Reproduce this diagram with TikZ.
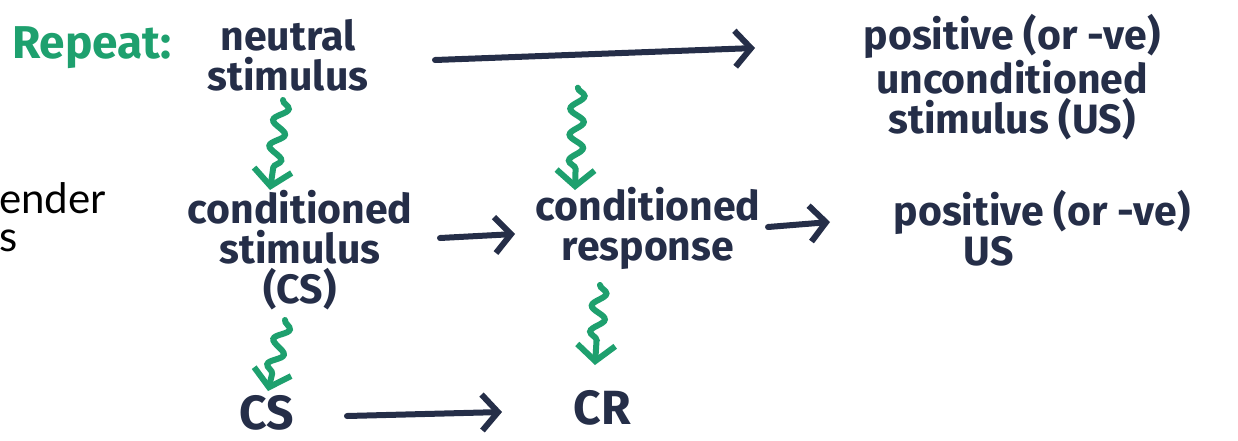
\documentclass[tikz,border=0pt]{standalone}
\usepackage{fontspec}
\setmainfont{Fira Sans}
\newfontfamily\sidefont{Lato}
\usetikzlibrary{arrows.meta,decorations.pathmorphing}
\definecolor{ink}{HTML}{252E48}
\definecolor{mark}{HTML}{1EA06E}
\begin{document}
\begin{tikzpicture}[x=1pt,y=-1pt,
  hand/.style={text=ink, font=\bfseries\fontsize{41}{40}\selectfont, align=center, inner sep=0pt},
  big/.style={hand, font=\bfseries\fontsize{48}{48}\selectfont},
  arr/.style={draw=ink, line width=6pt, line cap=round, -{Straight Barb[length=16pt,width=36pt,line width=6pt]}},
  wig/.style={draw=mark, line width=6pt, line cap=round, decorate,
     decoration={snake, segment length=26pt, amplitude=7pt, post length=16pt},
     -{Straight Barb[length=16pt,width=38pt,line width=6pt]}},
  side/.style={text=black, font=\sidefont\fontsize{42}{44}\selectfont, inner sep=0pt, anchor=west}]
\useasboundingbox (0,0) rectangle (1238,440);
% side fragments
\node[side] (sa) at (-1,198) {ender};
\node[side] (sb) at (-1,241) {s};
% nodes
\node[hand, text=mark, font=\bfseries\fontsize{46}{46}\selectfont] (rep) at (92,48) {Repeat:};
\node[hand] (ns) at (288,55) {neutral\\stimulus};
\node[hand] (us1) at (1012,77) {positive (or -ve)\\unconditioned\\stimulus (US)};
\node[hand] (cs1) at (300,250) {conditioned\\stimulus\\(CS)};
\node[hand] (cr1) at (648,228) {conditioned\\response};
\node[hand, align=left] (us2) at (1042,228) {positive (or -ve)\\\hspace*{70pt}US};
\node[big] (cs2) at (267,413) {CS};
\node[big] (cr2) at (602,408) {CR};
% connectors
\draw[arr] ([shift={(147,5)}]ns.center) -- coordinate[pos=0.44] (mid) ([shift={(-257,-29)}]us1.center);
\draw[arr] ([shift={(140,-12)}]cs1.center) -- ([shift={(-133,6)}]cr1.center);
\draw[arr] ([shift={(120,-1)}]cr1.center) -- ([shift={(-212,-6)}]us2.center);
\draw[arr] ([shift={(80,3)}]cs2.center) -- ([shift={(-100,4)}]cr2.center);
\draw[wig] ([shift={(-5,45)}]ns.center) -- ([shift={(-30,-60)}]cs1.center);
\draw[wig] ([shift={(2,33)}]mid) -- ([shift={(-73,-38)}]cr1.center);
\draw[wig] ([shift={(-15,70)}]cs1.center) -- ([shift={(1,-22)}]cs2.center);
\draw[wig] ([shift={(-48,57)}]cr1.center) -- ([shift={(-7,-43)}]cr2.center);
\end{tikzpicture}
\end{document}
